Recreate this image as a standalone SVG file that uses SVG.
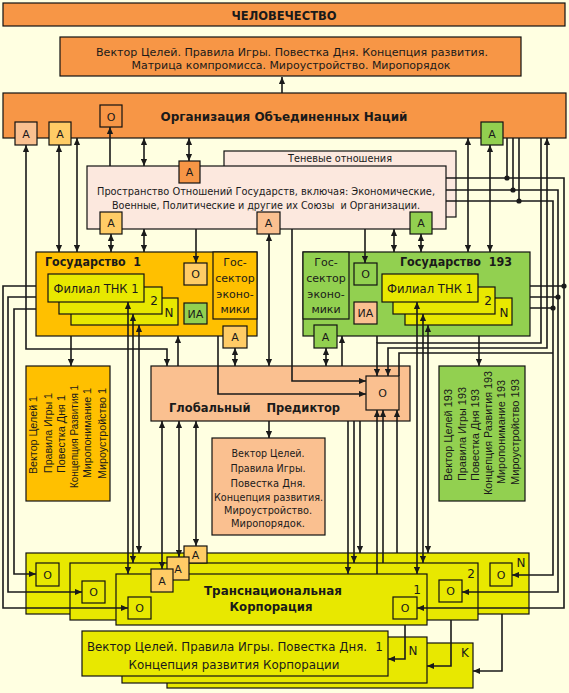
<svg xmlns="http://www.w3.org/2000/svg" width="569" height="693" viewBox="0 0 569 693">
<defs>
<marker id="ah" viewBox="0 0 8 8" refX="8" refY="4" markerWidth="7" markerHeight="7" markerUnits="userSpaceOnUse" orient="auto-start-reverse"><path d="M0,0.5 L8,4 L0,7.5 z" fill="#1a1a1a"/></marker>
</defs>
<style>
rect{stroke:#111;stroke-width:1.2}
.or{fill:#F79646}
.pe{fill:#FAC090}
.pk{fill:#FCE8DE}
.go{fill:#FFC000}
.gr{fill:#92D050}
.ye{fill:#E8E800}
.lo{fill:#FFCC66}
text{font-family:"DejaVu Sans","Liberation Sans",sans-serif;fill:#1a1a1a;font-size:11px;white-space:pre}
.t{font-weight:bold;font-size:12.5px}
.c{text-anchor:middle}
.s{font-family:"Liberation Sans",sans-serif;font-size:11px}
.w{fill:none;stroke:#1a1a1a;stroke-width:1.6}
.a{marker-end:url(#ah)}
.d{marker-start:url(#ah);marker-end:url(#ah)}
.dot{fill:#1a1a1a}
</style>
<rect x="0" y="0" width="569" height="693" fill="#FFFFE1" style="stroke:none"/>

<g id="humanity">
<rect class="or" x="3" y="3" width="562" height="23"/>
<text class="t c" x="284" y="19.5" textLength="105" lengthAdjust="spacingAndGlyphs">ЧЕЛОВЕЧЕСТВО</text>
</g>

<g id="world-vector">
<rect class="or" x="60" y="37" width="461" height="39"/>
<text class="c" x="292" y="56" textLength="392" lengthAdjust="spacingAndGlyphs">Вектор Целей. Правила Игры. Повестка Дня. Концепция развития.</text>
<text class="c" x="291" y="69" textLength="319" lengthAdjust="spacingAndGlyphs">Матрица компромисса. Мироустройство. Миропорядок</text>
</g>

<g id="un">
<rect class="or" x="3" y="93" width="563" height="45"/>
<text class="t c" x="284" y="121" textLength="247" lengthAdjust="spacingAndGlyphs">Организация Объединенных Наций</text>
<rect class="or" x="100" y="105" width="22" height="22"/>
<text class="c" x="111" y="120.5">О</text>
<rect class="pe" x="15" y="122" width="22" height="23"/>
<text class="c" x="26" y="137.5">А</text>
<rect class="lo" x="49" y="122" width="22" height="23"/>
<text class="c" x="60" y="137.5">А</text>
<rect class="gr" x="481" y="122" width="22" height="23"/>
<text class="c" x="492" y="137.5">А</text>
</g>

<g id="shadow">
<rect class="pk" x="224" y="151" width="232" height="66"/>
<text class="c" x="340" y="162" textLength="104" lengthAdjust="spacingAndGlyphs">Теневые отношения</text>
</g>

<g id="space">
<rect class="pk" x="87" y="166" width="359" height="63"/>
<text class="c" x="266" y="195" textLength="338" lengthAdjust="spacingAndGlyphs">Пространство Отношений Государств, включая: Экономические,</text>
<text class="c" x="266" y="209" textLength="308" lengthAdjust="spacingAndGlyphs">Военные, Политические и другие их Союзы  и Организации.</text>
<rect class="or" x="179" y="161" width="21" height="22"/>
<text class="c" x="189.5" y="176">А</text>
<rect class="lo" x="100" y="212" width="22" height="22"/>
<text class="c" x="111" y="227">А</text>
<rect class="pe" x="257" y="212" width="23" height="22"/>
<text class="c" x="268.5" y="227">А</text>
<rect class="gr" x="410" y="212" width="22" height="22"/>
<text class="c" x="421" y="227">А</text>
</g>

<g id="state-1">
<rect class="go" x="36" y="252" width="221" height="84"/>
<rect class="go" x="213" y="252" width="44" height="67"/>
<text class="t" x="45" y="266" textLength="96" lengthAdjust="spacingAndGlyphs">Государство  1</text>
<text class="c" x="235" y="266">Гос-</text>
<text class="c" x="235" y="282">сектор</text>
<text class="c" x="235" y="298">эконо-</text>
<text class="c" x="235" y="313">мики</text>
<rect class="lo" x="184" y="263" width="23" height="22"/>
<text class="c" x="195.5" y="278">О</text>
<rect class="gr" x="184" y="303" width="23" height="21"/>
<text class="c" x="195.5" y="317.5">ИА</text>
<rect class="ye" x="71" y="298" width="107" height="27"/>
<text class="c" x="169" y="317" style="font-size:12px">N</text>
<rect class="ye" x="59" y="287" width="103" height="27"/>
<text class="c" x="154" y="305" style="font-size:12px">2</text>
<rect class="ye" x="48" y="274" width="96" height="28"/>
<text class="c" x="96" y="292.5" style="font-size:12px" textLength="85" lengthAdjust="spacingAndGlyphs">Филиал ТНК 1</text>
<rect class="lo" x="223" y="326" width="24" height="22"/>
<text class="c" x="235" y="341">А</text>
</g>

<g id="state-193">
<rect class="gr" x="303" y="252" width="227" height="84"/>
<rect class="gr" x="303" y="252" width="46" height="67"/>
<text class="t" x="400" y="266" textLength="112" lengthAdjust="spacingAndGlyphs">Государство  193</text>
<text class="c" x="326" y="266">Гос-</text>
<text class="c" x="326" y="282">сектор</text>
<text class="c" x="326" y="298">эконо-</text>
<text class="c" x="326" y="313">мики</text>
<rect class="gr" x="354" y="263" width="23" height="22"/>
<text class="c" x="365.5" y="278">О</text>
<rect class="pe" x="354" y="302" width="23" height="22"/>
<text class="c" x="365.5" y="317">ИА</text>
<rect class="ye" x="405" y="298" width="107" height="27"/>
<text class="c" x="504" y="317" style="font-size:12px">N</text>
<rect class="ye" x="393" y="287" width="102" height="27"/>
<text class="c" x="488" y="305" style="font-size:12px">2</text>
<rect class="ye" x="382" y="274" width="96" height="28"/>
<text class="c" x="430" y="292.5" style="font-size:12px" textLength="86" lengthAdjust="spacingAndGlyphs">Филиал ТНК 1</text>
<rect class="gr" x="314" y="325" width="23" height="23"/>
<text class="c" x="325.5" y="340.5">А</text>
</g>

<g id="vector-1">
<rect class="go" x="26" y="366" width="84" height="135"/>
<text class="s c" transform="translate(37,435) rotate(-90)" textLength="78" lengthAdjust="spacingAndGlyphs">Вектор Целей 1</text>
<text class="s c" transform="translate(51.5,433) rotate(-90)" textLength="80" lengthAdjust="spacingAndGlyphs">Правила Игры 1</text>
<text class="s c" transform="translate(65,434) rotate(-90)" textLength="78" lengthAdjust="spacingAndGlyphs">Повестка Дня 1</text>
<text class="s c" transform="translate(78,436.5) rotate(-90)" textLength="103" lengthAdjust="spacingAndGlyphs">Концепция Развития 1</text>
<text class="s c" transform="translate(91,433) rotate(-90)" textLength="90" lengthAdjust="spacingAndGlyphs">Миропонимание 1</text>
<text class="s c" transform="translate(105.5,433.5) rotate(-90)" textLength="91" lengthAdjust="spacingAndGlyphs">Мироустройство 1</text>
</g>

<g id="vector-193">
<rect class="gr" x="439" y="366" width="86" height="135"/>
<text class="s c" transform="translate(452,435) rotate(-90)" textLength="92" lengthAdjust="spacingAndGlyphs">Вектор Целей 193</text>
<text class="s c" transform="translate(466,434) rotate(-90)" textLength="94" lengthAdjust="spacingAndGlyphs">Правила Игры 193</text>
<text class="s c" transform="translate(478.5,435) rotate(-90)" textLength="92" lengthAdjust="spacingAndGlyphs">Повестка Дня 193</text>
<text class="s c" transform="translate(491.5,433) rotate(-90)" textLength="124" lengthAdjust="spacingAndGlyphs">Концепция Развития 193</text>
<text class="s c" transform="translate(505,432) rotate(-90)" textLength="104" lengthAdjust="spacingAndGlyphs">Миропонимание 193</text>
<text class="s c" transform="translate(518.5,432) rotate(-90)" textLength="106" lengthAdjust="spacingAndGlyphs">Мироустройство 193</text>
</g>

<g id="predictor">
<rect class="pe" x="151" y="366" width="259" height="55"/>
<text class="t" x="169" y="412" style="font-size:13px" textLength="171" lengthAdjust="spacingAndGlyphs">Глобальный    Предиктор</text>
<rect class="pe" x="366" y="376" width="33" height="34"/>
<text class="c" x="382.5" y="397">О</text>
</g>

<g id="predictor-vector">
<rect class="pe" x="212" y="438" width="113" height="97"/>
<text class="c" x="268" y="457" textLength="73" lengthAdjust="spacingAndGlyphs">Вектор Целей.</text>
<text class="c" x="268" y="471.5" textLength="75" lengthAdjust="spacingAndGlyphs">Правила Игры.</text>
<text class="c" x="268" y="486.5" textLength="75" lengthAdjust="spacingAndGlyphs">Повеcтка Дня.</text>
<text class="c" x="268.5" y="501" textLength="109" lengthAdjust="spacingAndGlyphs">Концепция развития.</text>
<text class="c" x="268" y="514" textLength="88" lengthAdjust="spacingAndGlyphs">Мироустройство.</text>
<text class="c" x="268" y="527" textLength="74" lengthAdjust="spacingAndGlyphs">Миропорядок.</text>
</g>

<g id="tnk">
<rect class="ye" x="26" y="553" width="503" height="61"/>
<text class="c" x="521" y="567" style="font-size:12px">N</text>
<rect class="ye" x="36" y="563" width="23" height="23"/>
<text class="c" x="47.5" y="578.5">О</text>
<rect class="ye" x="490" y="563" width="22" height="23"/>
<text class="c" x="501" y="578.5">О</text>
<rect class="ye" x="70" y="563" width="408" height="57"/>
<text class="c" x="471" y="578" style="font-size:12px">2</text>
<rect class="ye" x="82" y="581" width="23" height="22"/>
<text class="c" x="93.5" y="596">О</text>
<rect class="ye" x="439" y="580" width="23" height="22"/>
<text class="c" x="450.5" y="595">О</text>
<rect class="ye" x="116" y="574" width="311" height="51"/>
<text class="c" x="417" y="594" style="font-size:12px">1</text>
<rect class="ye" x="128" y="597" width="23" height="22"/>
<text class="c" x="139.5" y="612">О</text>
<rect class="ye" x="393" y="597" width="24" height="22"/>
<text class="c" x="405" y="612">О</text>
<text class="t c" x="273" y="594.5" style="font-size:13px" textLength="138" lengthAdjust="spacingAndGlyphs">Транснациональная</text>
<text class="t c" x="271" y="611" style="font-size:13px" textLength="83" lengthAdjust="spacingAndGlyphs">Корпорация</text>
<rect class="lo" x="184" y="546" width="23" height="17"/>
<text class="c" x="195.5" y="559">А</text>
<rect class="lo" x="167" y="557" width="22" height="23"/>
<text class="c" x="178" y="572.5">А</text>
<rect class="lo" x="151" y="569" width="22" height="23"/>
<text class="c" x="162" y="584.5">А</text>
</g>

<g id="tnk-vector">
<rect class="ye" x="167" y="643" width="306" height="45"/>
<text class="c" x="465" y="657" style="font-size:12px">K</text>
<rect class="ye" x="122" y="637" width="305" height="46"/>
<text class="c" x="413" y="655" style="font-size:12px">N</text>
<rect class="ye" x="82" y="631" width="306" height="45"/>
<text x="87" y="650.5" style="font-size:12px" textLength="280" lengthAdjust="spacingAndGlyphs">Вектор Целей. Правила Игры. Повестка Дня.</text>
<text class="c" x="379" y="650.5" style="font-size:12px">1</text>
<text class="c" x="234" y="668.5" style="font-size:12px" textLength="211" lengthAdjust="spacingAndGlyphs">Концепция развития Корпорации</text>
</g>

<g id="connectors">
<path class="w a" d="M282,93 V77"/>
<path class="w d" d="M167,366 V349 H26 V145"/>
<path class="w d" d="M59,145 V252"/>
<path class="w d" d="M77,138 V252"/>
<path class="w a" d="M110,166 V127"/>
<path class="w d" d="M144,138 V166"/>
<path class="w d" d="M189,138 V161"/>
<path class="w d" d="M111,234 V252"/>
<path class="w d" d="M144,229 V252"/>
<path class="w a" d="M196,229 V263"/>
<path class="w d" d="M269,234 V366"/>
<path class="w a" d="M365,229 V263"/>
<path class="w d" d="M394,229 V252"/>
<path class="w d" d="M421,234 V252"/>
<path class="w d" d="M468,138 V252"/>
<path class="w d" d="M490,145 V252"/>
<path class="w a" d="M292,229 V381 H366"/>
<path class="w" d="M507,138 V178"/>
<path class="w" d="M513,138 V190"/>
<path class="w" d="M519,138 V201"/>
<path class="w a" d="M446,178 H564 V608 H417"/>
<path class="w a" d="M446,190 H558 V592 H462"/>
<path class="w a" d="M446,201 H553 V575 H512"/>
<path class="w" d="M530,286 H564 M530,297 H558 M530,308 H553"/>
<path class="w d" d="M547,138 V348 H388 V376"/>
<path class="w a" d="M541,138 V343 H377 V376"/>
<path class="w" d="M553,353 H399 V376"/>
<circle class="dot" cx="507" cy="178" r="2.6"/>
<circle class="dot" cx="513" cy="190" r="2.6"/>
<circle class="dot" cx="519" cy="201" r="2.6"/>
<circle class="dot" cx="564" cy="286" r="2.6"/>
<circle class="dot" cx="558" cy="297" r="2.6"/>
<circle class="dot" cx="553" cy="308" r="2.6"/>
<path class="w a" d="M36,286 H3 V608 H128"/>
<path class="w a" d="M36,297 H8 V592 H82"/>
<path class="w a" d="M36,309 H14 V574 H36"/>
<path class="w a" d="M71,336 V366"/>
<path class="w a" d="M178,366 V336"/>
<path class="w a" d="M218,336 V394 H366"/>
<path class="w d" d="M235,348 V366"/>
<path class="w d" d="M326,348 V366"/>
<path class="w a" d="M342,366 V336"/>
<path class="w" d="M377,336 V343"/>
<path class="w a" d="M479,336 V366"/>
<path class="w d" d="M128,302 V574"/>
<path class="w d" d="M133,314 V563"/>
<path class="w d" d="M139,325 V553"/>
<path class="w d" d="M417,302 V574"/>
<path class="w d" d="M423,314 V563"/>
<path class="w d" d="M428,325 V553"/>
<path class="w d" d="M162,421 V569"/>
<path class="w d" d="M179,421 V557"/>
<path class="w d" d="M196,421 V546"/>
<path class="w a" d="M348,421 V574"/>
<path class="w a" d="M354,421 V563"/>
<path class="w a" d="M360,421 V553"/>
<path class="w a" d="M377,574 V410"/>
<path class="w a" d="M383,563 V410"/>
<path class="w a" d="M397,553 V410"/>
<path class="w a" d="M269,421 V438"/>
<path class="w a" d="M405,625 V659 H388"/>
<path class="w a" d="M451,620 V666 H427"/>
<path class="w a" d="M502,614 V671 H473"/>
</g>
</svg>
